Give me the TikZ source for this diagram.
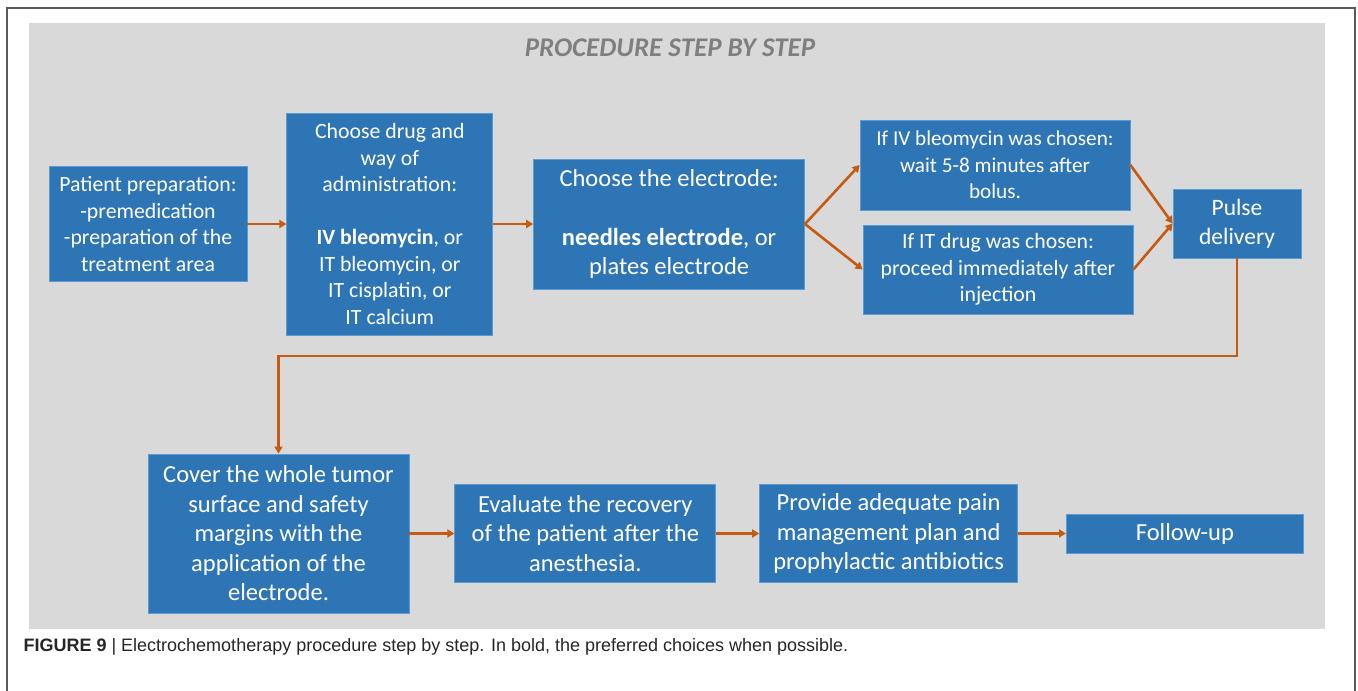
\documentclass[tikz,border=0pt]{standalone}
\usepackage{fontspec}
\setmainfont{Carlito}
\newfontfamily\captionfont{Liberation Sans}
\usetikzlibrary{positioning}
\usetikzlibrary{arrows.meta}
\definecolor{boxblue}{HTML}{2E75B6}
\definecolor{boxedge}{HTML}{5B9BD5}
\definecolor{flow}{HTML}{C55A11}
\definecolor{panel}{HTML}{D9D9D9}
\definecolor{titlegray}{HTML}{7F7F7F}
\tikzset{x=1pt, y=-1pt, % one unit = one pixel of the reference
      stepbox/.style={ % Sets the properties for each step
      draw=boxedge, line width=0.8pt,
      fill=boxblue,
      text=white,
      align=center,
      inner sep=0pt,
      font=\fontsize{21.8}{26.5}\selectfont},
      bigstep/.style={stepbox, font=\fontsize{24.5}{29.5}\selectfont},
      every edge/.style={ % Sets the properties for each connector
            draw=flow,
      -{Triangle[length=7pt,width=8pt]}, % Office-like arrowheads
      line width=2.6pt}}

\begin{document}
\begin{tikzpicture}
      \useasboundingbox (0,0) rectangle (1358,691);
      % frame and panel
      \draw[gray!70!black, line width=1.2pt] (7,691) -- (7,8) -- (1355,8) -- (1355,691);
      \fill[panel] (29,23) rectangle (1325,629);
      \node[font=\fontsize{27}{30}\selectfont\bfseries\itshape, text=titlegray] (title) at (670,48) {PROCEDURE STEP BY STEP};

      % first row
      \node[stepbox, minimum width=198pt, minimum height=115pt] (prep) at (148,224)
            {Patient preparation:\\-premedication\\-preparation of the\\treatment area};
      \node[stepbox, minimum width=206pt, minimum height=222pt, right=39pt of prep] (drug)
            {Choose drug and\\way of\\administration:\\[26.5pt]\textbf{IV bleomycin}, or\\IT bleomycin, or\\IT cisplatin, or\\IT calcium};
      \node[stepbox, font=\fontsize{24.5}{29.5}\selectfont, minimum width=271pt, minimum height=130pt, right=40pt of drug] (elec)
            {Choose the electrode:\\[29.5pt]\textbf{needles electrode}, or\\plates electrode};
      \node[stepbox, font=\fontsize{21.2}{26.5}\selectfont, minimum width=270pt, minimum height=90pt] (iv) at (995,165)
            {If IV bleomycin was chosen:\\wait 5-8 minutes after\\bolus.};
      \node[stepbox, minimum width=270pt, minimum height=89pt] (it) at (998,269.5)
            {If IT drug was chosen:\\proceed immediately after\\injection};
      \node[stepbox, font=\fontsize{23.5}{29.5}\selectfont, minimum width=128pt, minimum height=69pt] (pulse) at (1237,223.5)
            {Pulse\\delivery};

      % second row
      \node[bigstep, minimum width=261pt, minimum height=159pt] (cover) at (278.5,533.5)
            {Cover the whole tumor\\surface and safety\\margins with the\\application of the\\electrode.};
      \node[bigstep, minimum width=261pt, minimum height=98pt, right=45pt of cover] (eval)
            {Evaluate the recovery\\of the patient after the\\anesthesia.};
      \node[bigstep, minimum width=258pt, minimum height=98pt, right=43pt of eval] (prov)
            {Provide adequate pain\\management plan and\\prophylactic antibiotics};
      \node[bigstep, minimum width=237pt, minimum height=39pt, right=48pt of prov] (follow)
            {Follow-up};

      \coordinate (turnA) at (pulse.south |- 0,356);
      \coordinate (turnB) at (cover.north |- 0,356);

      \draw (prep) edge (drug);
      \draw (drug) edge (elec);
      \draw (elec.east) edge (iv.west);
      \draw (elec.east) edge (it.west);
      \draw (iv.east) edge (pulse.west);
      \draw (it.east) edge (pulse.west);
      \draw[draw=flow, line width=2.6pt, -{Triangle[length=7pt,width=8pt]}]
            (pulse.south) -- (turnA) -- (turnB) -- (cover.north);
      \draw (cover) edge (eval);
      \draw (eval) edge (prov);
      \draw (prov) edge (follow);

      \node[anchor=west, font=\captionfont\fontsize{18}{21}\selectfont, text=black!85] (caption) at (20,647)
            {\textbf{FIGURE 9} | Electrochemotherapy procedure step by step. In bold, the preferred choices when possible.};
    \end{tikzpicture}
\end{document}
